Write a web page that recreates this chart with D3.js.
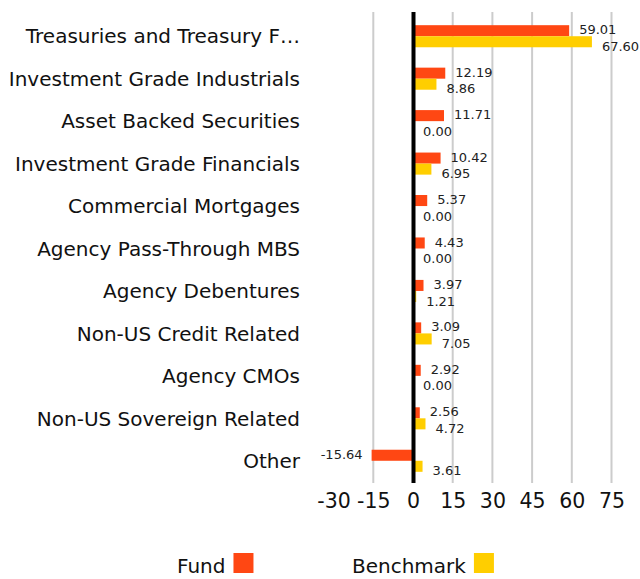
<!DOCTYPE html>
<html>
<head>
<meta charset="utf-8">
<script src="https://cdn.jsdelivr.net/npm/d3@7"></script>
<style>
  body { margin: 0; background: #fff; }
  svg { display: block; font-family: "DejaVu Sans", sans-serif; }
</style>
</head>
<body>
<svg width="640" height="579"></svg>
<script>
// chart data
const categories = [
  "Treasuries and Treasury F\u2026",
  "Investment Grade Industrials",
  "Asset Backed Securities",
  "Investment Grade Financials",
  "Commercial Mortgages",
  "Agency Pass-Through MBS",
  "Agency Debentures",
  "Non-US Credit Related",
  "Agency CMOs",
  "Non-US Sovereign Related",
  "Other"
];
const fund = [59.01, 12.19, 11.71, 10.42, 5.37, 4.43, 3.97, 3.09, 2.92, 2.56, -15.64];
const benchmark = [67.60, 8.86, 0.00, 6.95, 0.00, 0.00, 1.21, 7.05, 0.00, 4.72, 3.61];
const tickValues = [-30, -15, 0, 15, 30, 45, 60, 75];
const seriesNames = ["Fund", "Benchmark"];
const colors = ["#ff4713", "#ffce00"];

const svg = d3.select("svg");

const x = d3.scaleLinear().domain([-30, 75]).range([333.6, 611.5]);
const y = d3.scaleBand().domain(categories).range([15, 482]).paddingInner(0.48).paddingOuter(0.24);
const sub = d3.scaleBand().domain(seriesNames).range([0, y.bandwidth()]);
const fmt = v => v.toFixed(2); // keeps a plain hyphen for negatives

// grid lines
svg.append("g")
  .selectAll("line")
  .data(tickValues.filter(d => d !== -30 && d !== 0))
  .enter().append("line")
  .attr("x1", d => x(d)).attr("x2", d => x(d))
  .attr("y1", 12).attr("y2", 483)
  .attr("stroke", "#cccccc")
  .attr("stroke-width", 2);

// bars
const rows = categories.map((c, i) => ({ cat: c, vals: [fund[i], benchmark[i]] }));
const groups = svg.append("g").selectAll("g")
  .data(rows)
  .enter().append("g")
  .attr("transform", d => `translate(0,${y(d.cat)})`);

groups.selectAll("rect")
  .data(d => d.vals.map((v, j) => ({ v: v, s: seriesNames[j], j: j })))
  .enter().append("rect")
  .attr("x", d => x(Math.min(0, d.v)))
  .attr("y", d => sub(d.s))
  .attr("width", d => Math.abs(x(d.v) - x(0)))
  .attr("height", sub.bandwidth())
  .attr("fill", d => colors[d.j]);

// value labels (fund a bit above, benchmark a bit below so they don't touch)
groups.selectAll("text")
  .data(d => d.vals.map((v, j) => ({ v: v, s: seriesNames[j], j: j })))
  .enter().append("text")
  .attr("x", d => d.v < 0 ? x(d.v) - 9 : x(d.v) + 10)
  .attr("y", d => sub(d.s) + sub.bandwidth() / 2 + (d.j === 0 ? -1 : 4.5))
  .attr("dy", "0.35em")
  .attr("text-anchor", d => d.v < 0 ? "end" : "start")
  .attr("font-size", 13)
  .attr("fill", "#222")
  .text(d => fmt(d.v));

// zero line
svg.append("line")
  .attr("x1", x(0) + 0.5).attr("x2", x(0) + 0.5)
  .attr("y1", 12).attr("y2", 483)
  .attr("stroke", "#000")
  .attr("stroke-width", 4);

// category labels
svg.append("g").selectAll("text")
  .data(categories)
  .enter().append("text")
  .attr("x", 300)
  .attr("y", d => y(d) + y.bandwidth() / 2)
  .attr("dy", "0.36em")
  .attr("text-anchor", "end")
  .attr("font-size", 20)
  .attr("fill", "#111")
  .text(d => d);

// x axis
const xAxis = svg.append("g")
  .attr("transform", "translate(0,489)")
  .call(d3.axisBottom(x).tickValues(tickValues).tickFormat(d => String(d)).tickSize(0).tickPadding(0));
xAxis.select(".domain").remove();
xAxis.selectAll("text")
  .attr("y", 19)
  .attr("dy", 0)
  .attr("font-size", 20.5)
  .attr("font-family", "'DejaVu Sans', sans-serif")
  .attr("fill", "#111");

// legend
const legendX = [177, 352];
const legend = svg.append("g").selectAll("g")
  .data(seriesNames)
  .enter().append("g")
  .attr("transform", (d, i) => `translate(${legendX[i]},0)`);
legend.append("text")
  .attr("x", 0).attr("y", 573)
  .attr("font-size", 20)
  .attr("fill", "#111")
  .text(d => d);
legend.each(function(d, i) {
  const g = d3.select(this);
  const w = g.select("text").node().getComputedTextLength();
  g.append("rect")
    .attr("x", w + 8).attr("y", 553)
    .attr("width", 20).attr("height", 20)
    .attr("fill", colors[i]);
});
</script>
</body>
</html>
